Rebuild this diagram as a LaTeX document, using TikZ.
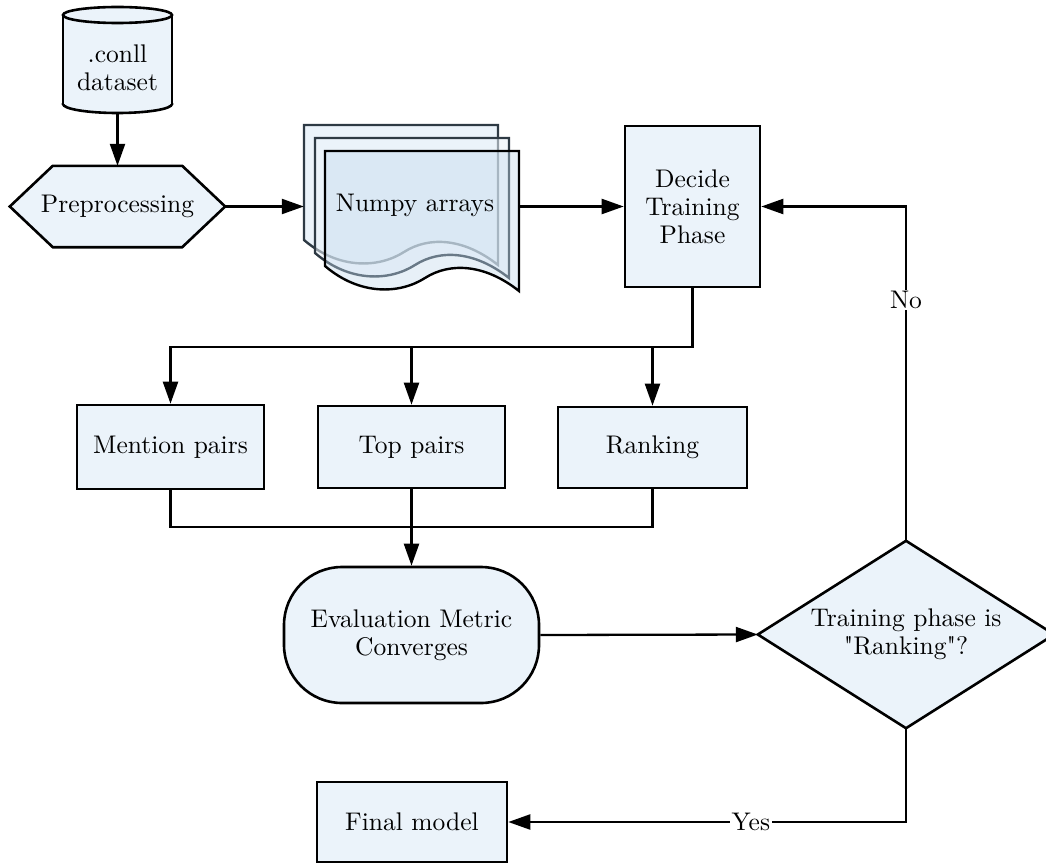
\documentclass[tikz,border=0pt]{standalone}
\usepackage{fontspec}
\setmainfont{lmroman10-regular.otf}[Ligatures=TeXOff]
\usetikzlibrary{arrows.meta,backgrounds,calc}
\definecolor{boxfill}{HTML}{EBF3FA}
\definecolor{frontfill}{HTML}{C2D9EC}
\definecolor{pageline}{HTML}{2E3A44}
\begin{document}
\begin{tikzpicture}[x=1pt,y=-1pt,
  txt/.style={font={\fontsize{25.5}{28}\selectfont}, align=center, text=black},
  boxnode/.style={txt, draw, line width=2.6pt, fill=boxfill, inner sep=0pt},
  ghost/.style={txt, inner sep=0pt},
  shapeline/.style={draw, line width=2.6pt, fill=boxfill, line join=miter},
  conn/.style={draw, line width=2.3pt},
  arr/.style={conn, -{Triangle[length=22pt,width=15pt]}},
  lab/.style={txt, fill=white, inner sep=1.5pt}
]
\useasboundingbox (0,0) rectangle (1046,864);

% ---------- cylinder ----------
\node[ghost, minimum width=109, minimum height=106] (cyl) at (117.5,60) {};
\node[ghost] (cylt) at (117.5,68) {.conll\\dataset};
\begin{scope}[on background layer]
  \path[shapeline] (cyl.center |- 0,104) ellipse [x radius=54.5pt, y radius=9pt];
  \fill[boxfill] (63,15) rectangle (172,104);
  \draw[line width=2.6pt] (63,15) -- (63,104) (172,15) -- (172,104);
  \path[shapeline] (cyl.center |- 0,15) ellipse [x radius=54.5pt, y radius=8pt];
\end{scope}

% ---------- hexagon ----------
\node[ghost, minimum width=215, minimum height=81] (pre) at (117.5,206.5) {Preprocessing};
\begin{scope}[on background layer]
  \path[shapeline] (pre.west) -- ([xshift=43pt]pre.north west) -- ([xshift=-43pt]pre.north east)
     -- (pre.east) -- ([xshift=-43pt]pre.south east) -- ([xshift=43pt]pre.south west) -- cycle;
\end{scope}

% ---------- numpy pages ----------
\node[ghost, minimum width=215, minimum height=163] (np) at (411.5,206.5) {};
\node[ghost] (npt) at (415,205) {Numpy arrays};
\begin{scope}[on background layer]
  \foreach \ox/\oy/\fc/\op/\lc in {304/125/boxfill/1/pageline, 315/138/boxfill/0.55/pageline, 325/151/frontfill/0.4/black}{
    \begin{scope}[shift={(\ox,\oy)}]
      \path[draw=\lc, line width=2.4pt, fill=\fc, fill opacity=\op, line join=miter]
        (0,0) -- (194,0) -- (194,140)
        .. controls (160,113) and (125,111) .. (100,127)
        .. controls (75,143) and (35,145) .. (0,115) -- cycle;
    \end{scope}
  }
\end{scope}

% ---------- decide ----------
\node[boxnode, minimum width=135, minimum height=161] (dec) at (692.5,206.5) {Decide\\Training\\Phase};

% ---------- three phases ----------
\node[boxnode, minimum width=187, minimum height=84] (mp) at (170.5,447) {Mention pairs};
\node[boxnode, minimum width=187, minimum height=82] (tp) at (411.5,447) {Top pairs};
\node[boxnode, minimum width=189, minimum height=81] (rk) at (652.5,447.5) {Ranking};

% ---------- evaluation ----------
\node[boxnode, rounded corners=58pt, minimum width=255, minimum height=136] (ev) at (411.5,635) {Evaluation Metric\\Converges};

% ---------- diamond ----------
\node[ghost, minimum width=296, minimum height=187] (dia) at (906,634.5) {Training phase is\\"Ranking"?};
\begin{scope}[on background layer]
  \path[shapeline] (dia.north) -- (dia.east) -- (dia.south) -- (dia.west) -- cycle;
\end{scope}

% ---------- final ----------
\node[boxnode, minimum width=190, minimum height=80] (fm) at (412,822) {Final model};

% ---------- connectors ----------
\coordinate (split) at (0,347);
\coordinate (merge) at (0,527);
\draw[arr] (cyl.south) -- (pre.north);
\draw[arr] (pre.east) -- (pre.east -| np.west);
\draw[arr] (np.east) -- (dec.west);
\draw[arr] (dec.south) |- (mp.north |- split) -- (mp.north);
\draw[arr] (tp.north |- split) -- (tp.north);
\draw[arr] (rk.north |- split) -- (rk.north);
\draw[conn] (mp.south) |- (rk.south |- merge) -- (rk.south);
\draw[arr] (tp.south) -- (ev.north);
\draw[arr] (ev.east) -- (dia.west);
\draw[arr] (dia.north) |- node[lab, pos=0.36] (nolab) {No} (dec.east);
\draw[arr] (dia.south) |- node[lab, pos=0.695] (yeslab) {Yes} (fm.east);
\end{tikzpicture}
\end{document}
